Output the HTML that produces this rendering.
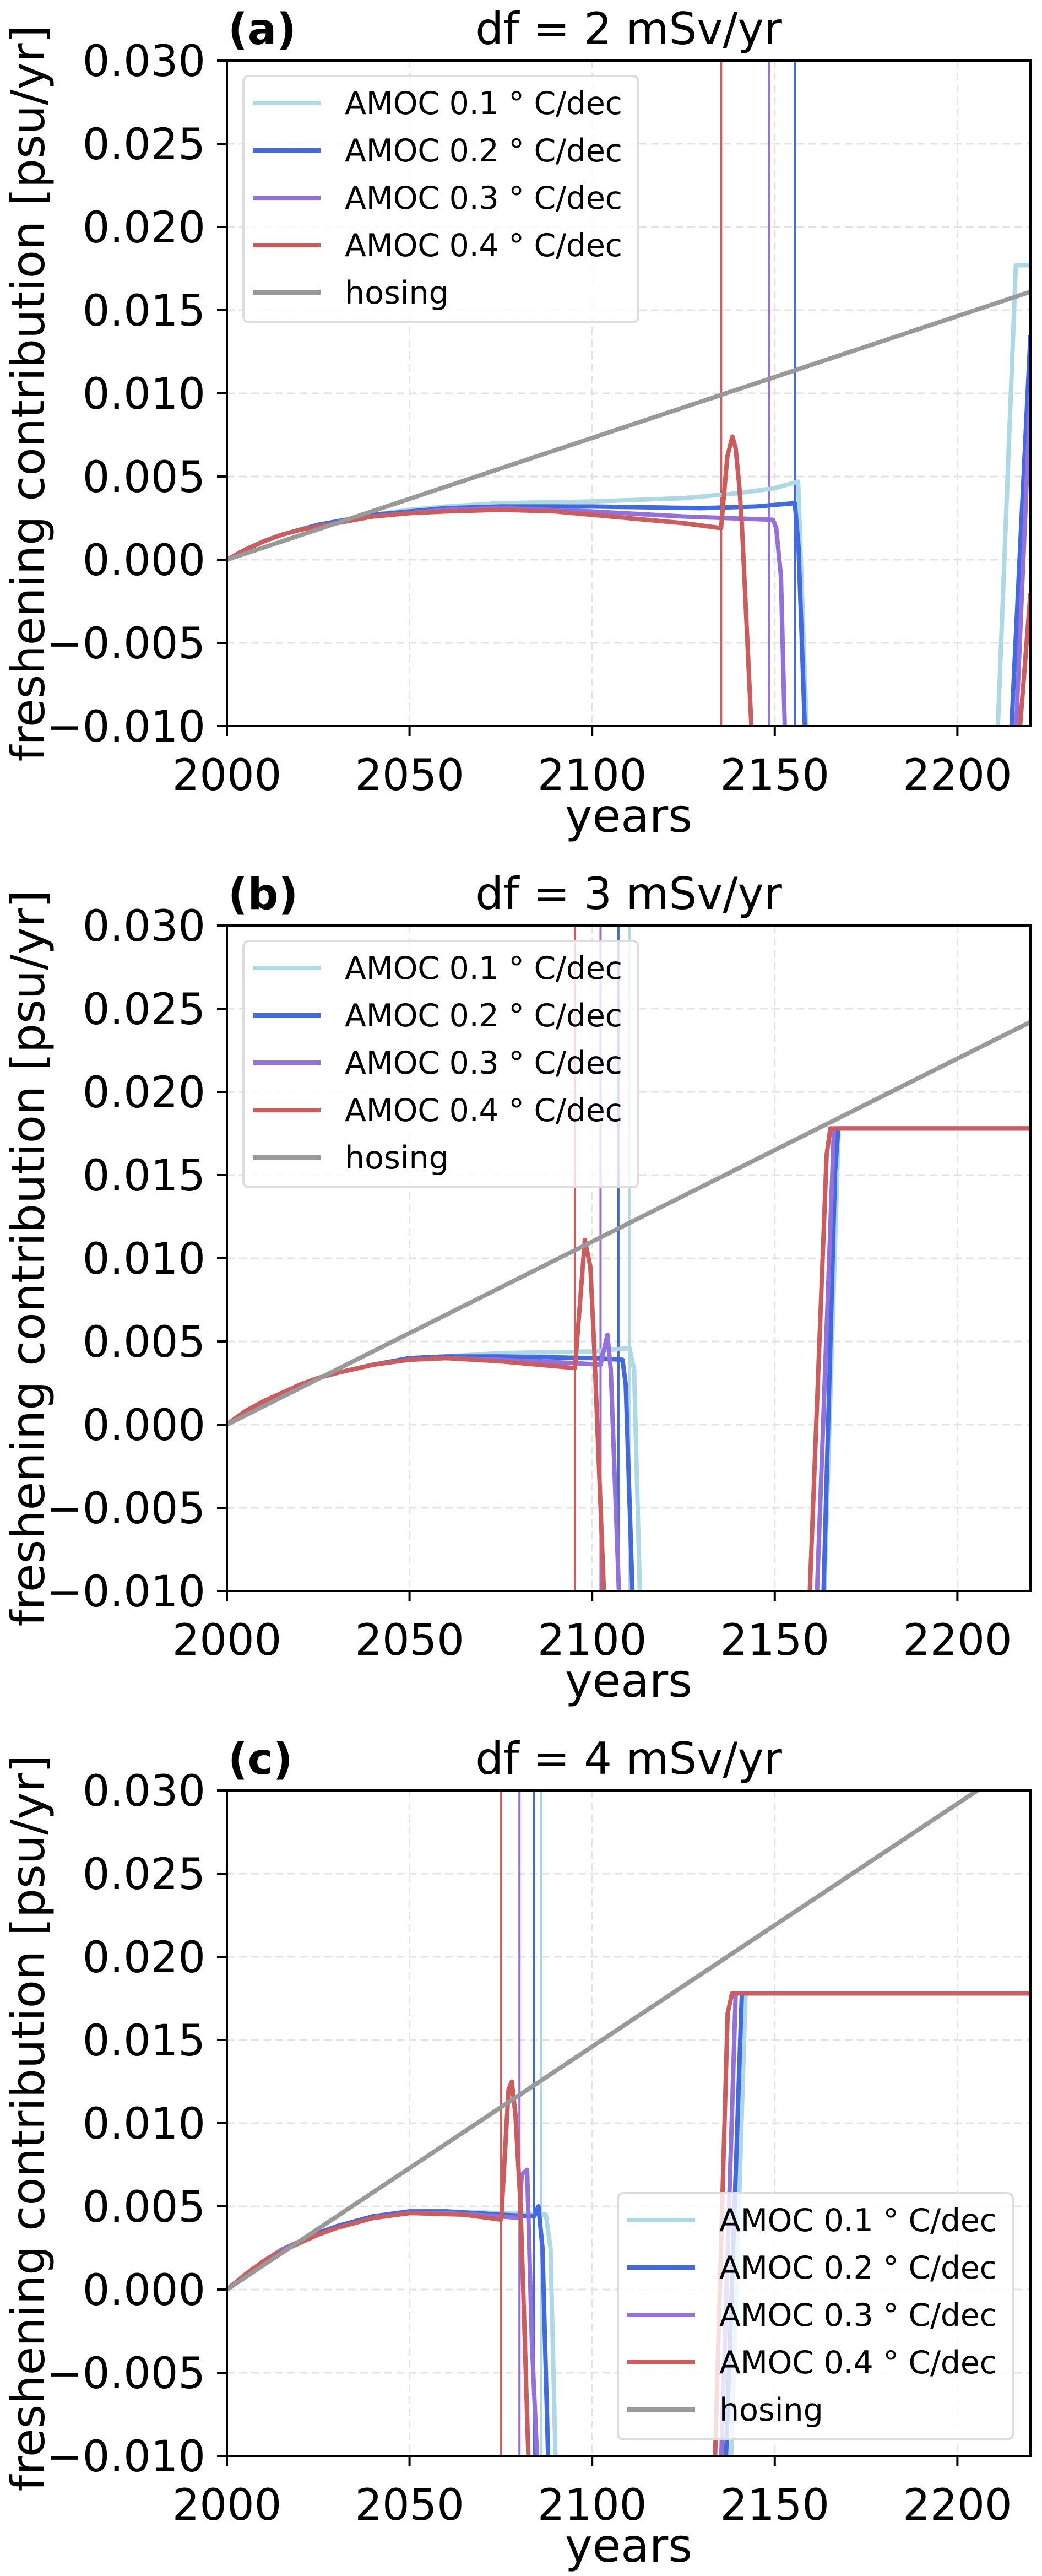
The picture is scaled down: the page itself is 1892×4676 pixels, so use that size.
<!DOCTYPE html>
<html><head><meta charset="utf-8"><style>
html,body{margin:0;padding:0;background:#fff;overflow:hidden;}
svg{display:block;font-family:"DejaVu Sans","Liberation Sans",sans-serif;}
</style></head>
<body>
<svg id="fig" width="1892" height="4676" viewBox="0 0 1892 4676" xmlns="http://www.w3.org/2000/svg"></svg>
<script>
// ---------- data ----------
const xTicks = [2000, 2050, 2100, 2150, 2200];
const yTicks = [-0.010, -0.005, 0.000, 0.005, 0.010, 0.015, 0.020, 0.025, 0.030];
const yTickLabels = ["\u22120.010","\u22120.005","0.000","0.005","0.010","0.015","0.020","0.025","0.030"];
const seriesNames = ["AMOC 0.1", "AMOC 0.2", "AMOC 0.3", "AMOC 0.4"];
const panelLabels = ["(a)", "(b)", "(c)"];
const panelTitles = ["df = 2 mSv/yr", "df = 3 mSv/yr", "df = 4 mSv/yr"];
const hosingSlope = [0.0000732, 0.00011, 0.000146];
const tippingYears = [[2155.5, 2155.5, 2148.4, 2135.3],[2110.2, 2107.2, 2102.3, 2095.3],[2086.1, 2084.1, 2080.1, 2075.1]];
const tippingShown = [[false, true, true, true],[true, true, true, true],[true, true, true, true]];

// panel a
const a_lb_x = [2000,2005,2010,2015,2020,2025,2030,2040,2050,2060,2075,2100,2125,2140,2150,2156.4,2158.8,2159.3,2210.5,2211,2216,2220];
const a_lb_y = [0,0.0006,0.0011,0.0015,0.0018,0.0021,0.0023,0.0027,0.0030,0.0032,0.0034,0.0035,0.0037,0.0040,0.0043,0.0047,-0.0105,-0.03,-0.03,-0.0105,0.0177,0.0177];
const a_b_x = [2000,2005,2010,2015,2020,2025,2030,2040,2050,2060,2075,2100,2130,2145,2155.5,2156.5,2158.3,2158.8,2214.2,2214.7,2220];
const a_b_y = [0,0.0006,0.0011,0.0015,0.0018,0.0021,0.0023,0.0027,0.0029,0.0031,0.0032,0.0032,0.0031,0.0032,0.0034,0.0008,-0.0105,-0.03,-0.03,-0.0105,0.0135];
const a_p_x = [2000,2005,2010,2015,2020,2025,2030,2040,2050,2060,2075,2100,2125,2149.5,2150.4,2151.7,2152.8,2153.3,2215.5,2216,2220];
const a_p_y = [0,0.0006,0.0011,0.0015,0.0018,0.0020,0.0022,0.0026,0.0028,0.0030,0.0031,0.0029,0.0026,0.0024,0.0019,-0.001,-0.0105,-0.03,-0.03,-0.0105,0.010];
const a_r_x = [2000,2005,2010,2015,2020,2025,2030,2040,2050,2060,2075,2090,2100,2125,2135.3,2137,2138.4,2139.3,2140.3,2141,2143.7,2144.2,2216.5,2217,2220];
const a_r_y = [0,0.0006,0.0011,0.0015,0.0018,0.0020,0.0022,0.0026,0.0028,0.0029,0.0030,0.0029,0.0027,0.0022,0.0019,0.0062,0.0074,0.0067,0.0044,0.0021,-0.0105,-0.03,-0.03,-0.0105,-0.002];
// panel b
const b_lb_x = [2000,2005,2010,2015,2020,2025,2030,2040,2050,2060,2075,2100,2110.2,2111.5,2113.1,2113.6,2163,2163.5,2167.5,2220];
const b_lb_y = [0,0.0008,0.0014,0.0019,0.0024,0.0028,0.0031,0.0036,0.0039,0.0041,0.0043,0.0044,0.0046,0.0033,-0.0105,-0.03,-0.03,-0.0105,0.0178,0.0178];
const b_b_x = [2000,2005,2010,2015,2020,2025,2030,2040,2050,2060,2075,2100,2108.3,2109.2,2111.1,2111.6,2162.8,2163.3,2166.5,2167.4,2220];
const b_b_y = [0,0.0008,0.0014,0.0019,0.0024,0.0028,0.0031,0.0036,0.0040,0.0041,0.0041,0.0040,0.0039,0.0024,-0.0105,-0.03,-0.03,-0.0105,0.0152,0.0178,0.0178];
const b_p_x = [2000,2005,2010,2015,2020,2025,2030,2040,2050,2060,2075,2095,2102.3,2104.2,2105.1,2107.4,2107.9,2161,2161.5,2166.2,2220];
const b_p_y = [0,0.0008,0.0014,0.0019,0.0024,0.0028,0.0031,0.0036,0.0039,0.0040,0.0039,0.0037,0.0036,0.0054,0.0033,-0.0105,-0.03,-0.03,-0.0105,0.0178,0.0178];
const b_r_x = [2000,2005,2010,2015,2020,2025,2030,2040,2050,2060,2075,2095.3,2098,2099.5,2100.5,2103.3,2103.8,2159,2159.5,2164.2,2165.2,2220];
const b_r_y = [0,0.0008,0.0014,0.0019,0.0024,0.0028,0.0031,0.0036,0.0039,0.0040,0.0038,0.0034,0.0111,0.0095,0.005,-0.0105,-0.03,-0.03,-0.0105,0.0162,0.0178,0.0178];
// panel c
const c_lb_x = [2000,2005,2010,2015,2020,2025,2030,2040,2050,2060,2075,2087.3,2088.6,2090,2090.5,2137.5,2138,2142,2220];
const c_lb_y = [0,0.0009,0.0017,0.0024,0.0029,0.0034,0.0038,0.0044,0.0047,0.0047,0.0046,0.0045,0.0025,-0.0105,-0.03,-0.03,-0.0105,0.0178,0.0178];
const c_b_x = [2000,2005,2010,2015,2020,2025,2030,2040,2050,2060,2075,2084.1,2085.3,2086.4,2088,2088.5,2136.1,2136.6,2140.7,2141,2220];
const c_b_y = [0,0.0009,0.0017,0.0024,0.0029,0.0034,0.0038,0.0044,0.0047,0.0047,0.0045,0.0044,0.0050,0.0025,-0.0105,-0.03,-0.03,-0.0105,0.016,0.0178,0.0178];
const c_p_x = [2000,2005,2010,2015,2020,2025,2030,2040,2050,2060,2075,2080.1,2080.7,2082.2,2083.5,2085,2085.5,2134.8,2135.3,2139.3,2220];
const c_p_y = [0,0.0009,0.0017,0.0024,0.0029,0.0033,0.0037,0.0043,0.0046,0.0046,0.0044,0.0043,0.0069,0.0072,-0.0032,-0.0105,-0.03,-0.03,-0.0105,0.0178,0.0178];
const c_r_x = [2000,2005,2010,2015,2020,2025,2030,2040,2050,2065,2075.1,2077.1,2078,2079,2080.4,2081.4,2082.6,2083.1,2133.1,2133.6,2137.1,2138.3,2220];
const c_r_y = [0,0.0009,0.0017,0.0023,0.0028,0.0033,0.0037,0.0043,0.0046,0.0045,0.0042,0.0120,0.0125,0.0105,0.005,-0.0019,-0.0105,-0.03,-0.03,-0.0105,0.0166,0.0178,0.0178];

const panelX = [[a_lb_x,a_b_x,a_p_x,a_r_x],[b_lb_x,b_b_x,b_p_x,b_r_x],[c_lb_x,c_b_x,c_p_x,c_r_x]];
const panelY = [[a_lb_y,a_b_y,a_p_y,a_r_y],[b_lb_y,b_b_y,b_p_y,b_r_y],[c_lb_y,c_b_y,c_p_y,c_r_y]];

// ---------- layout / style ----------
const colors = ["#add8e6","#4169e1","#9370db","#cd5c5c"];
const hosingColor = "#999999";
const L = 412, R = 1871, H = 1208;
const tops = [110, 1680, 3250];
const XMIN = 2000, XMAX = 2220, YMIN = -0.010, YMAX = 0.030;
const legendPos = [[442, 138],[442, 1708],[1122, 3981]];
const NS = "http://www.w3.org/2000/svg";
const fig = document.getElementById('fig');

function el(tag, attrs, parent, text) {
  const e = document.createElementNS(NS, tag);
  for (const k in attrs) e.setAttribute(k, attrs[k]);
  if (text !== undefined) e.textContent = text;
  parent.appendChild(e);
  return e;
}

const defs = el('defs', {}, fig);

for (let p = 0; p < 3; p++) {
  const T = tops[p], B = T + H;
  const sx = v => L + (v - XMIN) / (XMAX - XMIN) * (R - L);
  const sy = v => T + (YMAX - v) / (YMAX - YMIN) * H;

  const g = el('g', {}, fig);
  
  

  const cp = el('clipPath', {id: 'clip' + p}, defs);
  el('rect', {x: L, y: T, width: R - L, height: H}, cp);

  const grid = el('g', {stroke: '#e3e3e3', 'stroke-width': 3, 'stroke-dasharray': '14,8'}, g);
  
  
  xTicks.forEach(v => el('line', {x1: sx(v), x2: sx(v), y1: T, y2: B}, grid));
  yTicks.forEach(v => el('line', {x1: L, x2: R, y1: sy(v), y2: sy(v)}, grid));

  const plot = el('g', {'clip-path': 'url(#clip' + p + ')', fill: 'none', 'stroke-linejoin': 'round'}, g);
  
  

  for (let s = 0; s < 4; s++) {
    if (!tippingShown[p][s]) continue;
    const vx = sx(tippingYears[p][s]);
    const vl = el('line', {x1: vx, x2: vx, y1: T, y2: B, stroke: colors[s], 'stroke-width': 4}, plot);
    
    
  }
  for (let s = 0; s < 4; s++) {
    const xs = panelX[p][s], ys = panelY[p][s];
    const d = xs.map((x, i) => (i ? 'L' : 'M') + sx(x).toFixed(1) + ',' + sy(ys[i]).toFixed(1)).join(' ');
    const path = el('path', {d: d, stroke: colors[s], 'stroke-width': 8}, plot);
    
    
  }
  const hl = el('line', {x1: sx(XMIN), y1: sy(0), x2: sx(XMAX), y2: sy(hosingSlope[p] * (XMAX - XMIN)), stroke: hosingColor, 'stroke-width': 8}, plot);
  
  

  const frame = el('rect', {x: L, y: T, width: R - L, height: H, fill: 'none', stroke: '#000', 'stroke-width': 4}, g);
  
  

  const xt = el('g', {}, g);
  
  
  xTicks.forEach(v => {
    el('line', {x1: sx(v), x2: sx(v), y1: B, y2: B + 18, stroke: '#000', 'stroke-width': 4}, xt);
    el('text', {x: sx(v), y: B + 116, 'font-size': 78, 'text-anchor': 'middle'}, xt, String(v));
  });
  const yt = el('g', {}, g);
  
  
  yTicks.forEach((v, i) => {
    el('line', {x1: L - 18, x2: L, y1: sy(v), y2: sy(v), stroke: '#000', 'stroke-width': 4}, yt);
    el('text', {x: L - 39, y: sy(v) + 28, 'font-size': 78, 'text-anchor': 'end'}, yt, yTickLabels[i]);
  });

  const xl = el('text', {x: (L + R) / 2, y: B + 192, 'font-size': 84, 'text-anchor': 'middle'}, g, 'years');
  
  
  const yl = el('text', {x: 0, y: 0, 'font-size': 84, 'text-anchor': 'middle', transform: 'translate(80,' + (T + H / 2) + ') rotate(-90)'}, g, 'freshening contribution [psu/yr]');
  
  

  const pl = el('text', {x: 414, y: T - 30, 'font-size': 78, 'font-weight': 'bold'}, g, panelLabels[p]);
  
  
  const tt = el('text', {x: (L + R) / 2, y: T - 30, 'font-size': 80, 'text-anchor': 'middle'}, g, panelTitles[p]);
  
  

  const [lx, ly] = legendPos[p];
  const lg = el('g', {}, g);
  
  
  el('rect', {x: lx, y: ly, width: 717, height: 447, rx: 10, fill: 'rgba(255,255,255,0.8)', stroke: '#dddddd', 'stroke-width': 4}, lg);
  const labels = seriesNames.map(n => n + '  \u00B0 C/dec').concat(['hosing']);
  const lcols = colors.concat([hosingColor]);
  labels.forEach((lab, i) => {
    const cy = ly + 49 + i * 86;
    const entry = el('g', {}, lg);
    
    
    el('line', {x1: lx + 17, x2: lx + 140, y1: cy, y2: cy, stroke: lcols[i], 'stroke-width': 8}, entry);
    const attrs = {x: lx + 184, y: cy + 20, 'font-size': 57};
    if (i < 4) attrs.textLength = 504;
    el('text', attrs, entry, lab);
  });
}
</script>
</body></html>
